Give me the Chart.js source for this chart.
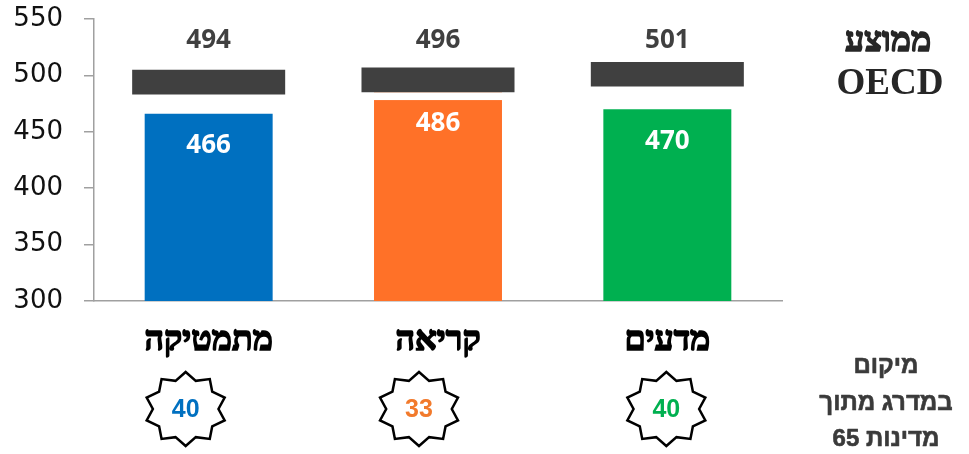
<!DOCTYPE html>
<html>
<head>
<meta charset="utf-8">
<script src="https://cdn.jsdelivr.net/npm/chart.js@4"></script>
<style>
    body { margin: 0; background: #fff; }
    canvas { display: block; }
</style>
</head>
<body>
<canvas id="chart" width="969" height="454"></canvas>
<script>
'use strict';

// data
var categories = ['מתמטיקה', 'קריאה', 'מדעים'];
var scores = [466, 486, 470];
var oecdAverage = [494, 496, 501];
var ranks = [40, 33, 40];
var yTicks = [300, 350, 400, 450, 500, 550];

var barColors = ['#0070C0', '#FF7128', '#00B050'];
var rankColors = ['#0070C0', '#F27A2C', '#00B050'];
var markerHalf = 18;             // half height of the OECD marker, in score units
var starShift = [-23, -19, -1];  // stars sit a bit left of the bars

var axisGray = '#A0A0A0';

var drawStar = function (ctx, cx, cy, rx, ry, points) {
    ctx.beginPath();
    for (var i = 0; i < points * 2; i++) {
        var a = -Math.PI / 2 + i * Math.PI / points;
        var k = (i % 2 === 0) ? 1 : 0.8;
        var px = cx + Math.cos(a) * rx * k;
        var py = cy + Math.sin(a) * ry * k;
        if (i === 0) ctx.moveTo(px, py); else ctx.lineTo(px, py);
    }
    ctx.closePath();
    ctx.fillStyle = '#fff';
    ctx.fill();
    ctx.lineWidth = 2.5;
    ctx.strokeStyle = '#000';
    ctx.stroke();
};

// fill + thin stroke of the same colour, to get a heavier Hebrew weight
var heavyText = function (ctx, text, x, y, color, stroke) {
    ctx.fillStyle = color;
    ctx.strokeStyle = color;
    ctx.lineWidth = stroke;
    ctx.lineJoin = 'round';
    ctx.strokeText(text, x, y);
    ctx.fillText(text, x, y);
};

var labelsPlugin = {
    id: 'labels',
    afterDatasetsDraw: function (chart) {
        var ctx = chart.ctx;
        var y = chart.scales.y;
        var x = chart.scales.x;
        ctx.save();
        ctx.textAlign = 'center';
        ctx.textBaseline = 'middle';

        // score values inside the bars
        ctx.font = 'bold 26px "Open Sans"';
        ctx.fillStyle = '#fff';
        scores.forEach(function (v, i) {
            ctx.fillText(String(v), x.getPixelForValue(i), y.getPixelForValue(v) + 32);
        });

        // OECD averages above the markers
        ctx.fillStyle = '#404040';
        oecdAverage.forEach(function (v, i) {
            ctx.fillText(String(v), x.getPixelForValue(i), chart.chartArea.top + 22);
        });

        // rank stars under the category names
        ranks.forEach(function (r, i) {
            var cx = x.getPixelForValue(i) + starShift[i];
            var cy = 409;
            drawStar(ctx, cx, cy, 41, 37, 10);
            ctx.font = 'bold 25px "Liberation Sans Narrow", "Liberation Sans"';
            ctx.fillStyle = rankColors[i];
            ctx.fillText(String(r), cx, cy + 1);
        });

        // side notes
        var sx = 888;
        ctx.font = 'bold 34px "Liberation Serif"';
        heavyText(ctx, 'ממוצע', sx, 42, '#262626', 1.6);
        ctx.font = 'bold 37px "Liberation Serif"';
        ctx.fillStyle = '#262626';
        ctx.fillText('OECD', sx + 2, 84);

        ctx.font = 'bold 24px "Liberation Sans"';
        heavyText(ctx, 'מיקום', sx - 2, 366, '#3a3a3a', 0.6);
        heavyText(ctx, 'במדרג מתוך', sx - 2, 403, '#3a3a3a', 0.6);

        // number on the left, word on the right
        var num = '65', word = 'מדינות';
        var wNum = ctx.measureText(num).width;
        var wWord = ctx.measureText(word).width;
        var gap = ctx.measureText(' ').width;
        var left = sx - 2 - (wNum + gap + wWord) / 2;
        ctx.textAlign = 'left';
        heavyText(ctx, num, left, 439, '#3a3a3a', 0.6);
        heavyText(ctx, word, left + wNum + gap, 439, '#3a3a3a', 0.6);
        ctx.restore();
    }
};

var ctx = document.getElementById('chart').getContext('2d');
var chart = new Chart(ctx, {
    type: 'bar',
    data: {
        labels: categories,
        datasets: [
            {
                // OECD average marker, drawn on top with a white edge
                label: 'OECD',
                data: oecdAverage.map(function (v) { return [v - markerHalf, v + markerHalf]; }),
                backgroundColor: '#404040',
                borderColor: '#fff',
                borderWidth: 8,
                borderSkipped: false,
                grouped: false,
                barPercentage: 0.737,
                categoryPercentage: 1
            },
            {
                label: 'ציון',
                data: scores,
                backgroundColor: barColors,
                borderWidth: 0,
                grouped: false,
                barPercentage: 0.558,
                categoryPercentage: 1
            }
        ]
    },
    options: {
        responsive: false,
        animation: false,
        layout: { padding: { left: 0, right: 187, top: 19, bottom: 0 } },
        plugins: {
            legend: { display: false },
            tooltip: { enabled: false }
        },
        scales: {
            x: {
                grid: { display: false },
                border: { display: true, color: axisGray, width: 1.5 },
                ticks: {
                    color: '#000',
                    padding: 12,
                    textStrokeColor: '#000',
                    textStrokeWidth: 1.6,
                    font: { family: '"Liberation Serif"', size: 34, weight: 'bold' }
                },
                afterFit: function (scale) {
                    scale.height = 153;
                    scale.paddingLeft = 0;
                    scale.paddingRight = 0;
                }
            },
            y: {
                min: 300,
                max: 550,
                afterBuildTicks: function (scale) {
                    scale.ticks = yTicks.map(function (v) { return { value: v }; });
                },
                grid: {
                    drawOnChartArea: false,
                    drawTicks: true,
                    tickLength: 10,
                    color: axisGray,
                    lineWidth: 1.5
                },
                border: { display: true, color: axisGray, width: 1.5 },
                ticks: {
                    color: '#111',
                    padding: 21,
                    font: { family: '"DejaVu Sans"', size: 26 }
                },
                afterFit: function (scale) {
                    scale.width = 94;
                    scale.paddingTop = 0;
                    scale.paddingBottom = 0;
                }
            }
        }
    },
    plugins: [labelsPlugin]
});
</script>
</body>
</html>
